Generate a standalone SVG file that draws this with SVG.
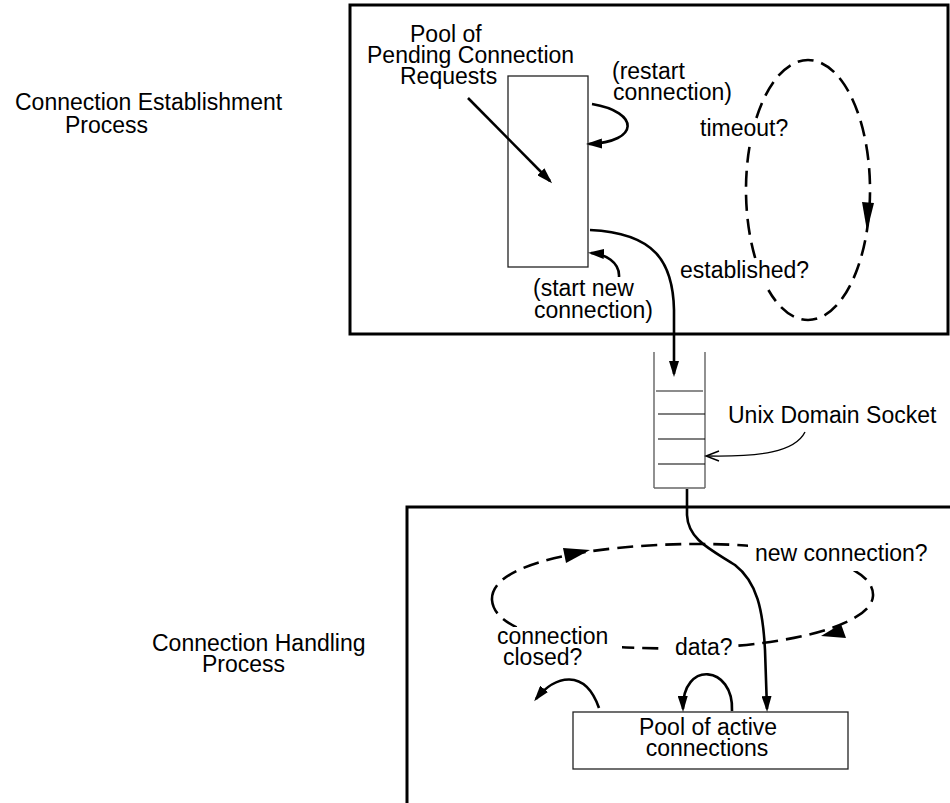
<svg xmlns="http://www.w3.org/2000/svg" width="950" height="803" viewBox="0 0 950 803">
<style>
text{font-family:"Liberation Sans",Arial,Helvetica,sans-serif;font-size:23px;fill:#000}
.box{fill:none;stroke:#000;stroke-width:3}
.thin{fill:#fff;stroke:#222;stroke-width:1.3}
.sock{fill:none;stroke:#555;stroke-width:1.3}
.sline{stroke:#000;stroke-width:1.2}
.arr{fill:none;stroke:#000;stroke-width:2.6;marker-end:url(#ah)}
.dash{fill:none;stroke:#000;stroke-width:2.6;stroke-dasharray:16 8}
.head{fill:#000}
</style>
<defs>
<marker id="ah" viewBox="0 0 16 10" refX="13" refY="5" markerWidth="16" markerHeight="10" markerUnits="userSpaceOnUse" orient="auto">
<path d="M0,0 L16,5 L0,10 z" fill="#000"/>
</marker>
<mask id="lblmask" maskUnits="userSpaceOnUse" x="0" y="0" width="950" height="803">
<rect x="0" y="0" width="950" height="803" fill="#fff"/>
<rect x="748" y="534" width="190" height="37" fill="#000"/>
<rect x="662" y="632" width="75" height="32" fill="#000"/>
<rect x="504" y="627" width="118" height="46" fill="#000"/>
</mask>
</defs>
<rect width="950" height="803" fill="#fff"/>

<g id="establishment-process">
<rect class="box" x="350" y="5" width="598" height="329"/>
<text x="15" y="110">Connection Establishment</text>
<text x="65" y="133">Process</text>
</g>

<g id="pending-pool">
<rect class="thin" x="508" y="76" width="80" height="191"/>
<text x="410" y="42">Pool of</text>
<text x="367" y="63">Pending Connection</text>
<text x="400" y="84">Requests</text>
</g>

<g id="socket">
<line class="sock" x1="654" y1="352" x2="654" y2="488"/>
<line class="sock" x1="705" y1="352" x2="705" y2="488"/>
<line x1="656" y1="391" x2="703" y2="391" stroke="#666" stroke-width="1.5"/>
<line class="sline" x1="658" y1="414" x2="705" y2="414"/>
<line class="sline" x1="658" y1="439" x2="705" y2="439"/>
<line class="sline" x1="658" y1="464" x2="705" y2="464"/>
<line x1="654" y1="488" x2="705" y2="488" stroke="#666" stroke-width="1.5"/>
<text x="728" y="423">Unix Domain Socket</text>
</g>

<g id="handling-process">
<path class="box" d="M955,507 L407,507 L407,808"/>
<text x="152" y="651">Connection Handling</text>
<text x="202" y="672">Process</text>
</g>

<g id="active-pool">
<rect class="thin" x="573" y="712" width="275" height="57"/>
<text x="708" y="735" text-anchor="middle">Pool of active</text>
<text x="707" y="756" text-anchor="middle">connections</text>
</g>

<g id="connectors">
<path class="arr" d="M468,98 L550,181"/>
<path class="arr" d="M592,104 C640,112 640,142 589,144"/>
<path class="arr" d="M619,277 C620,262 605,254 591,253"/>
<path class="arr" d="M590,230 C655,233 673,262 674,310 L674,374"/>
<path fill="none" stroke="#000" stroke-width="1.4" d="M805,432 C795,452 760,457 707,456"/>
<polyline fill="none" stroke="#000" stroke-width="1.4" points="719,451 706,456 719,461"/>
<path class="arr" d="M687,489 L687,515 C688,540 712,550 735,565 C757,582 763,610 765,650 L767,709"/>
<path class="arr" d="M732,711 C734,665 682,660 683,709"/>
<path class="arr" d="M599,708 C585,668 555,675 536,699"/>

<path class="dash" d="M756.4,118 A62,130 0 1 1 768.4,290"/>
<path class="dash" d="M755.2,258 A62,130 0 0 1 749.8,145"/>
<polygon class="head" points="862,202 874,203 867,231"/>
<text x="700" y="136">timeout?</text>
<text x="680" y="278">established?</text>
<text x="612" y="79">(restart</text>
<text x="613" y="100">connection)</text>
<text x="533" y="296">(start new</text>
<text x="534" y="318">connection)</text>

<path class="dash" mask="url(#lblmask)" d="M492,600 C490,562 595,545 690,544 C800,543 875,565 873,596 C871,625 790,645 700,648 C600,651 495,640 492,600 Z"/>
<polygon class="head" points="590,550 563,548 566,563"/>
<polygon class="head" points="821,636 841,624 846,638"/>
<text x="755" y="561">new connection?</text>
<text x="675" y="655">data?</text>
<text x="497" y="644">connection</text>
<text x="503" y="665">closed?</text>
</g>
</svg>
